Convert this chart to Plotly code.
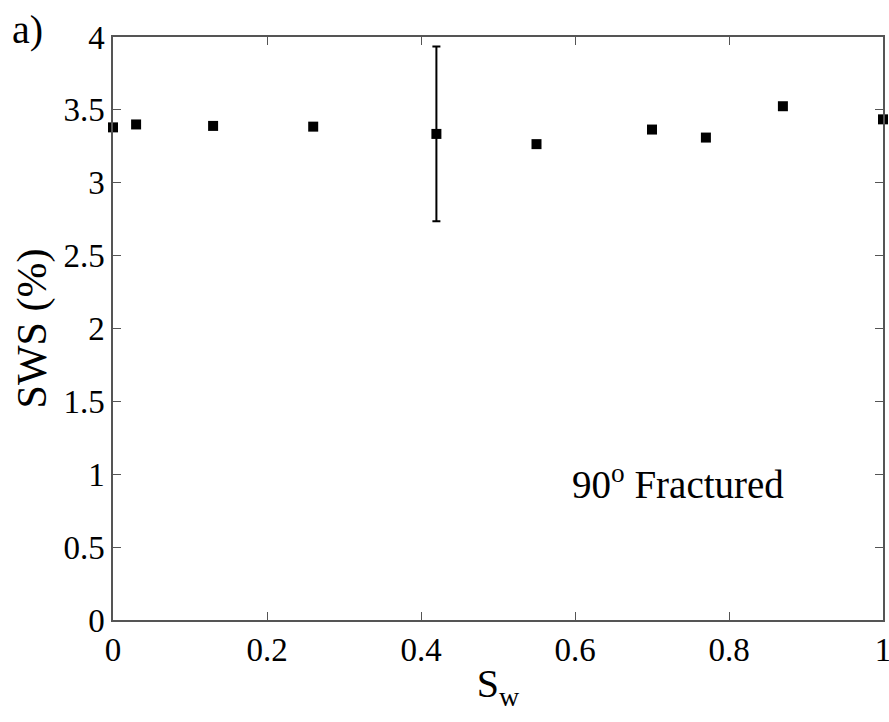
import plotly.graph_objects as go

sw = [0.0, 0.03, 0.13, 0.26, 0.42, 0.55, 0.70, 0.77, 0.87, 1.0]
sws = [3.38, 3.40, 3.39, 3.385, 3.335, 3.265, 3.365, 3.31, 3.525, 3.435]
sws_err = [0, 0, 0, 0, 0.60, 0, 0, 0, 0, 0]

x_ticks = [0, 0.2, 0.4, 0.6, 0.8, 1]
x_tick_text = ["0", "0.2", "0.4", "0.6", "0.8", "1"]
y_ticks = [0, 0.5, 1, 1.5, 2, 2.5, 3, 3.5, 4]
y_tick_text = ["0", "0.5", "1", "1.5", "2", "2.5", "3", "3.5", "4"]

serif = "Liberation Serif, Times New Roman, serif"

fig = go.Figure()
fig.add_trace(go.Scatter(
    x=sw, y=sws,
    mode="markers",
    marker=dict(symbol="square", size=10, color="black"),
    error_y=dict(type="data", array=sws_err, visible=True,
                 color="black", thickness=2, width=4),
    cliponaxis=False,
    showlegend=False,
))

axis_common = dict(
    showgrid=False, zeroline=False,
    showline=True, linecolor="#555555", linewidth=1.5,
    mirror="ticks", ticks="inside", ticklen=8, tickcolor="#555555",
    tickfont=dict(family=serif, size=33, color="black"),
    ticklabeloverflow="allow", automargin=False,
)

fig.update_xaxes(range=[0, 1], tickvals=x_ticks, ticktext=x_tick_text,
                 title=dict(text="S<sub>w</sub>", font=dict(family=serif, size=40, color="black"),
                            standoff=2),
                 **axis_common)
fig.update_yaxes(range=[0, 4], tickvals=y_ticks, ticktext=y_tick_text,
                 title=dict(text="SWS (%)", font=dict(family=serif, size=42, color="black"),
                            standoff=4),
                 **axis_common)

# label inside the plot
fig.add_annotation(x=0.734, y=0.95, xref="x", yref="y",
                   text="90<sup>o</sup> Fractured", showarrow=False,
                   font=dict(family=serif, size=39, color="black"))
# panel letter
fig.add_annotation(x=-0.134, y=1.055, xref="paper", yref="paper",
                   text="a)", showarrow=False, xanchor="left", yanchor="top",
                   font=dict(family=serif, size=40, color="black"))

fig.update_layout(
    width=889, height=722,
    margin=dict(l=113, r=6, t=37, b=102),
    plot_bgcolor="white", paper_bgcolor="white",
)

# drop the default body margin so the figure sits at the page corner
fig.write_html("out.html", config={"displayModeBar": False},
               post_script="document.body.style.margin='0';")
